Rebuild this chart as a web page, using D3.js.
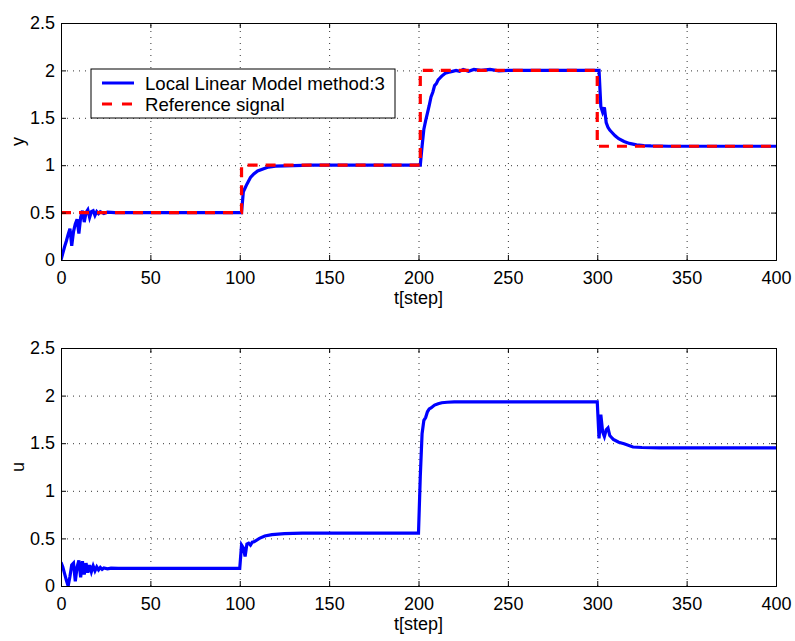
<!DOCTYPE html>
<html>
<head>
<meta charset="utf-8">
<script src="https://cdn.jsdelivr.net/npm/d3@7"></script>
<style>
  body { margin: 0; background: #fff; }
  text { font-family: "Liberation Sans", Arial, sans-serif; }
</style>
</head>
<body>
<div id="chart"></div>
<script>
// output y
var tY = [0,1,2,3,4,5,6,7,8,9,10,11,12,13,14,15,16,17,18,19,20,21,22,24,26,30,100,
  101,102,103,104,106,108,110,113,116,120,130,140,200,
  201,202,203,204,205,206,207,208,209,210,211,212,213,215,217,219,221,223,225,228,231,235,240,245,250,300,
  301,302,303,304,305,306,307,308,310,312,315,318,322,326,330,340,400];
var yVals = [0,0.07,0.14,0.2,0.27,0.33,0.15,0.3,0.38,0.43,0.28,0.45,0.52,0.4,0.5,0.53,0.45,0.51,0.52,0.47,0.51,0.49,0.51,0.49,0.505,0.5,0.5,
  0.5,0.72,0.76,0.8,0.87,0.91,0.94,0.96,0.98,0.99,0.995,1.0,1.0,
  1.0,1.2,1.38,1.47,1.55,1.63,1.72,1.77,1.84,1.86,1.9,1.92,1.94,1.97,1.98,1.99,2.0,1.99,2.01,1.99,2.01,2.0,2.01,1.995,2.0,2.0,
  2.0,1.62,1.56,1.61,1.45,1.4,1.37,1.35,1.31,1.28,1.25,1.23,1.215,1.207,1.203,1.2,1.2];

// reference signal
var tRef = [0,101,101,201,201,300,300,400];
var refVals = [0.5,0.5,1,1,2,2,1.2,1.2];

// control input u, bottom panel
var tU = [0,1,2,3,4,5,6,7,8,9,10,11,12,13,14,15,16,17,18,19,20,21,22,23,24,26,28,32,100,
  101,102,103,104,105,106,107,108,111,114,118,125,135,200,
  201,202,203,204,205,206,207,209,211,213,216,220,300,
  301,302,303,304,305,306,307,308,309,312,315,320,325,335,400];
var uVals = [0.25,0.2,0.13,0.06,0.0,0.1,0.22,0.24,0.05,0.2,0.27,0.09,0.26,0.12,0.24,0.14,0.22,0.15,0.21,0.16,0.2,0.17,0.195,0.175,0.19,0.18,0.188,0.185,0.185,
  0.43,0.4,0.31,0.44,0.45,0.43,0.46,0.465,0.5,0.525,0.54,0.55,0.555,0.555,
  1.15,1.6,1.74,1.77,1.83,1.86,1.87,1.9,1.915,1.925,1.93,1.935,1.935,
  1.55,1.8,1.62,1.57,1.64,1.66,1.58,1.56,1.54,1.51,1.495,1.46,1.455,1.45,1.45];

var xTicks = [0,50,100,150,200,250,300,350,400];
var yTicks = [0,0.5,1,1.5,2,2.5];
var legendLabels = ["Local Linear Model method:3", "Reference signal"];

const W = 795, H = 641;
const left = 61, right = 776;
const fs = 18;

const svg = d3.select("#chart").append("svg").attr("width", W).attr("height", H);

const x = d3.scaleLinear().domain([0, 400]).range([left, right]);

function panel(id, top, bottom, ylab, series) {
  const y = d3.scaleLinear().domain([0, 2.5]).range([bottom, top]);
  const g = svg.append("g");

  // grid
  g.append("g").attr("transform", "translate(0," + bottom + ")")
    .call(d3.axisBottom(x).tickValues(xTicks).tickSize(-(bottom - top)).tickFormat(""))
    .call(s => s.select(".domain").remove())
    .selectAll("line").attr("stroke", "#333").attr("stroke-dasharray", "1,5");
  g.append("g").attr("transform", "translate(" + left + ",0)")
    .call(d3.axisLeft(y).tickValues(yTicks).tickSize(-(right - left)).tickFormat(""))
    .call(s => s.select(".domain").remove())
    .selectAll("line").attr("stroke", "#333").attr("stroke-dasharray", "1,5");

  // data
  g.append("clipPath").attr("id", id).append("rect")
    .attr("x", left).attr("y", top).attr("width", right - left).attr("height", bottom - top);
  const line = d3.line().x(d => x(d[0])).y(d => y(d[1]));
  series.forEach(s => {
    g.append("path").datum(d3.zip(s.t, s.v))
      .attr("clip-path", "url(#" + id + ")")
      .attr("d", line).attr("fill", "none")
      .attr("stroke", s.color).attr("stroke-width", 3.2)
      .attr("stroke-dasharray", s.dash || null);
  });

  // axes, ticks inside on all four sides
  const ax = g.append("g").attr("transform", "translate(0," + bottom + ")")
    .call(d3.axisBottom(x).tickValues(xTicks).tickSize(-5).tickPadding(11).tickFormat(d3.format("d")));
  g.append("g").attr("transform", "translate(0," + top + ")")
    .call(d3.axisTop(x).tickValues(xTicks).tickSize(-5).tickFormat(""));
  const ay = g.append("g").attr("transform", "translate(" + left + ",0)")
    .call(d3.axisLeft(y).tickValues(yTicks).tickSize(-5).tickPadding(6).tickFormat(d => d3.format("")(d)));
  g.append("g").attr("transform", "translate(" + right + ",0)")
    .call(d3.axisRight(y).tickValues(yTicks).tickSize(-5).tickFormat(""));
  g.selectAll(".domain").attr("stroke", "#000").attr("stroke-width", 1);
  g.selectAll(".tick text").attr("font-size", fs).attr("fill", "#000")
    .attr("font-family", "Liberation Sans, Arial, sans-serif");
  ax.selectAll(".tick line").attr("stroke", "#000");
  ay.selectAll(".tick line").attr("stroke", "#000");

  g.append("text").attr("x", (left + right) / 2).attr("y", bottom + 44)
    .attr("text-anchor", "middle").attr("font-size", fs).text("t[step]");
  g.append("text").attr("transform", "translate(24," + (top + bottom) / 2 + ") rotate(-90)")
    .attr("text-anchor", "middle").attr("font-size", fs).text(ylab);
}

panel("clipTop", 23, 260, "y", [
  {t: tY, v: yVals, color: "#0000ff"},
  {t: tRef, v: refVals, color: "#ff0000", dash: "10,8"}
]);
panel("clipBot", 348, 586, "u", [
  {t: tU, v: uVals, color: "#0000ff"}
]);

// legend
const lg = svg.append("g");
lg.append("rect").attr("x", 91).attr("y", 69).attr("width", 304).attr("height", 49)
  .attr("fill", "#fff").attr("stroke", "#000").attr("stroke-width", 1);
const legColors = ["#0000ff", "#ff0000"];
const legDash = [null, "10,10"];
legendLabels.forEach((lab, i) => {
  const yy = 83 + i * 21;
  lg.append("line").attr("x1", 102).attr("x2", 134).attr("y1", yy).attr("y2", yy)
    .attr("stroke", legColors[i]).attr("stroke-width", 3).attr("stroke-dasharray", legDash[i]);
  lg.append("text").attr("x", 145).attr("y", yy + 6.5).attr("font-size", 18.6).text(lab);
});
</script>
</body>
</html>
